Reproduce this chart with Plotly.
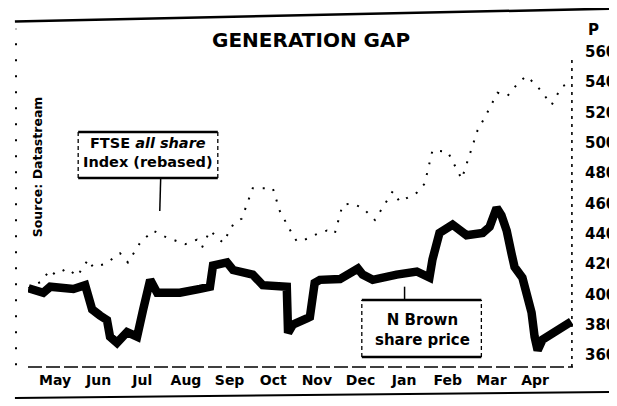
import plotly.graph_objects as go

# x positions in months from the start of May (0 = 1 May)
months = ["May", "Jun", "Jul", "Aug", "Sep", "Oct", "Nov", "Dec", "Jan", "Feb", "Mar", "Apr"]
month_centres = [i + 0.5 for i in range(12)]
y_ticks = [360, 380, 400, 420, 440, 460, 480, 500, 520, 540, 560]

nbrown_x = [-0.11, 0.23, 0.39, 0.92, 1.19, 1.26, 1.35, 1.53, 1.69, 1.76, 1.92, 2.15, 2.38,
            2.52, 2.68, 2.84, 3.36, 3.82, 4.05, 4.12, 4.44, 4.58, 5.03, 5.26, 5.81, 5.84,
            5.95, 6.27, 6.34, 6.45, 6.57, 7.03, 7.44, 7.55, 7.78, 8.33, 8.79, 9.08, 9.15,
            9.31, 9.61, 9.93, 10.30, 10.46, 10.62, 10.73, 10.85, 10.96, 11.03, 11.21, 11.33,
            11.42, 11.49, 11.56, 11.67, 11.90, 12.13, 12.33]
nbrown_y = [404, 401, 405, 403.5, 406, 398, 390, 386, 383, 372, 368, 375, 372,
            390, 409.5, 401, 401, 403.5, 405, 419, 421, 416, 413, 406, 405, 374.5,
            380, 384, 385, 407.5, 409.5, 410, 417, 413, 409.5, 413, 415, 411, 423,
            440.5, 446, 439, 440.5, 444.5, 457, 452, 442, 427, 418, 411, 398,
            388, 372, 363, 370, 374.5, 378.5, 382]

ftse_x = [-0.11, 0.16, 0.39, 0.50, 0.78, 1.01, 1.26, 1.37, 1.65, 1.88, 1.99, 2.17, 2.45,
          2.75, 3.02, 3.48, 3.75, 3.87, 4.05, 4.35, 4.58, 4.78, 5.03, 5.49, 5.65, 5.93,
          6.04, 6.22, 6.52, 6.73, 6.91, 7.09, 7.30, 7.55, 7.83, 8.24, 8.40, 8.79, 8.97,
          9.15, 9.50, 9.82, 10.18, 10.39, 10.64, 10.87, 11.10, 11.30, 11.53, 11.67, 11.88,
          12.11, 12.33]
ftse_y = [404, 408, 416, 413, 417, 412, 423, 418, 420, 425, 427, 421, 434,
          442, 438, 433, 436, 431, 442, 434, 446, 450, 470, 470, 455, 440,
          435, 436, 440, 442, 440, 459, 460, 457, 449, 468, 461, 467, 473,
          495, 494, 476, 508, 519, 533, 531, 539, 544, 538, 533, 525,
          537, 540]

FONT = "DejaVu Sans"

fig = go.Figure()
fig.add_trace(go.Scatter(x=ftse_x, y=ftse_y, mode="lines",
                         line=dict(color="black", width=2, dash="2px,9px"),
                         hoverinfo="skip", showlegend=False))
fig.add_trace(go.Scatter(x=nbrown_x, y=nbrown_y, mode="lines",
                         line=dict(color="black", width=8.5),
                         hoverinfo="skip", showlegend=False))

# The page body has an 8px margin, so the figure is sized to fill the rest of the window.
fig.update_layout(
    width=609, height=398,
    margin=dict(l=20, r=44, t=12, b=39, autoexpand=False),
    paper_bgcolor="white", plot_bgcolor="white",
    showlegend=False,
    xaxis=dict(range=[-0.12, 12.37], tickvals=month_centres, ticktext=months,
               showgrid=False, zeroline=False, showline=False, ticks="",
               tickfont=dict(family=FONT, size=14, color="black", weight="bold"),
               ticklabelstandoff=3, fixedrange=True),
    yaxis=dict(range=[352, 581], side="right", tickvals=y_ticks,
               showgrid=False, zeroline=False, showline=False, ticks="",
               tickfont=dict(family=FONT, size=15, color="black", weight="bold"),
               ticklabelstandoff=11, fixedrange=True),
)


def callout_box(x0, x1, y0, y1):
    """Box with heavy top/bottom rules and dashed sides (data coordinates)."""
    heavy = dict(color="black", width=2.5)
    light = dict(color="black", width=1.3, dash="4px,3px")
    return [
        dict(type="line", xref="x", yref="y", x0=x0, x1=x1, y0=y1, y1=y1, line=heavy),
        dict(type="line", xref="x", yref="y", x0=x0, x1=x1, y0=y0, y1=y0, line=heavy),
        dict(type="line", xref="x", yref="y", x0=x0, x1=x0, y0=y0, y1=y1, line=light),
        dict(type="line", xref="x", yref="y", x0=x1, x1=x1, y0=y0, y1=y1, line=light),
    ]


shapes = [
    # top and bottom frame rules (slightly skewed, as scanned)
    dict(type="line", xref="paper", yref="paper", x0=-0.024, x1=1.081, y0=0.996, y1=1.033,
         line=dict(color="black", width=2.5)),
    dict(type="line", xref="paper", yref="paper", x0=-0.024, x1=1.081, y0=-0.089, y1=-0.072,
         line=dict(color="black", width=2)),
    # bottom axis (dashed)
    dict(type="line", xref="paper", yref="paper", x0=0.0, x1=1.0, y0=0.0, y1=0.0,
         line=dict(color="black", width=1.6, dash="14px,4px")),
    # left dotted rule
    dict(type="line", xref="paper", yref="paper", x0=-0.022, x1=-0.022, y0=0.005, y1=0.975,
         line=dict(color="black", width=2, dash="2px,14px")),
    # right dotted axis
    dict(type="line", xref="paper", yref="paper", x0=0.998, x1=0.998, y0=0.0, y1=0.885,
         line=dict(color="black", width=1.6, dash="3px,5px")),
    # FTSE callout pointer
    dict(type="line", xref="x", yref="y", x0=2.92, x1=2.90, y0=476, y1=455,
         line=dict(color="black", width=1.5)),
    # N Brown callout pointer
    dict(type="line", xref="x", yref="y", x0=8.51, x1=8.51, y0=396, y1=405,
         line=dict(color="black", width=1.5)),
]
shapes += callout_box(1.03, 4.23, 476.7, 507.1)
shapes += callout_box(7.53, 10.27, 358.6, 396.2)
fig.update_layout(shapes=shapes)

annotations = [
    dict(text="<b>GENERATION GAP</b>", xref="paper", yref="paper", x=0.520, y=0.942,
         xanchor="center", yanchor="middle", showarrow=False,
         font=dict(family=FONT, size=20, color="black")),
    dict(text="<b>P</b>", xref="paper", yref="paper", x=1.037, y=0.971,
         xanchor="center", yanchor="middle", showarrow=False,
         font=dict(family=FONT, size=15, color="black")),
    dict(text="<b>Source: Datastream</b>", xref="paper", yref="paper", x=0.018, y=0.578,
         xanchor="center", yanchor="middle", textangle=-90, showarrow=False,
         font=dict(family=FONT, size=12.5, color="black")),
    dict(text="<b>FTSE <i>all share</i></b><br><b>Index (rebased)</b>", xref="x", yref="y",
         x=2.63, y=493.5, xanchor="center", yanchor="middle", showarrow=False, align="center",
         font=dict(family=FONT, size=14.5, color="black")),
    dict(text="<b>N Brown</b><br><b>share price</b>", xref="x", yref="y",
         x=8.92, y=376.5, xanchor="center", yanchor="middle", showarrow=False, align="center",
         font=dict(family=FONT, size=15, color="black")),
]
fig.update_layout(annotations=annotations)

fig.write_html("out.html")
